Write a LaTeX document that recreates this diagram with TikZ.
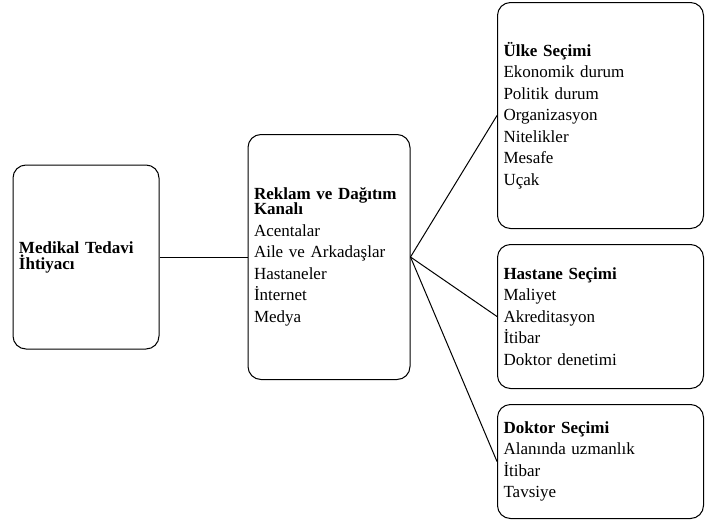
\documentclass[tikz,border=0pt]{standalone}
\usepackage{fontspec}
\setmainfont{Liberation Serif}
\usetikzlibrary{positioning}

\begin{document}
\begin{tikzpicture}[x=1pt,y=-1pt,box/.style={draw,line width=1pt,rounded corners=13pt,align=left,inner xsep=6pt,font=\fontsize{17}{21.5}\selectfont},link/.style={line width=1pt}]
		\useasboundingbox (0,0) rectangle (705,522);

		\node[box,minimum width=146pt,minimum height=184pt,text width=134pt]	(med)	at (86,257)	{\textbf{Medikal Tedavi}\\[-5.5pt]\textbf{İhtiyacı}};
		\node[box,minimum width=162pt,minimum height=245pt,text width=150pt,right=88pt of med]	(rek)	{\textbf{Reklam ve Dağıtım}\\[-6.5pt]\textbf{Kanalı}\\Acentalar\\Aile ve Arkadaşlar\\Hastaneler\\İnternet\\Medya};
		\node[box,minimum width=206pt,minimum height=226pt,text width=194pt,anchor=north west]	(ulke)	at (497,2)	{\textbf{Ülke Seçimi}\\Ekonomik durum\\Politik durum\\Organizasyon\\Nitelikler\\Mesafe\\Uçak};
		\node[box,minimum width=206pt,minimum height=144pt,text width=194pt,below=15pt of ulke]	(hast)	{\textbf{Hastane Seçimi}\\Maliyet\\Akreditasyon\\İtibar\\Doktor denetimi};
		\node[box,minimum width=206pt,minimum height=114pt,text width=194pt,below=15pt of hast]	(dok)	{\textbf{Doktor Seçimi}\\Alanında uzmanlık\\İtibar\\Tavsiye};

		\draw[link] (med) -- (rek);
		\draw[link] (rek.east) -- (ulke.west);
		\draw[link] (rek.east) -- (hast.west);
		\draw[link] (rek.east) -- (dok.west);
	\end{tikzpicture}
\end{document}
